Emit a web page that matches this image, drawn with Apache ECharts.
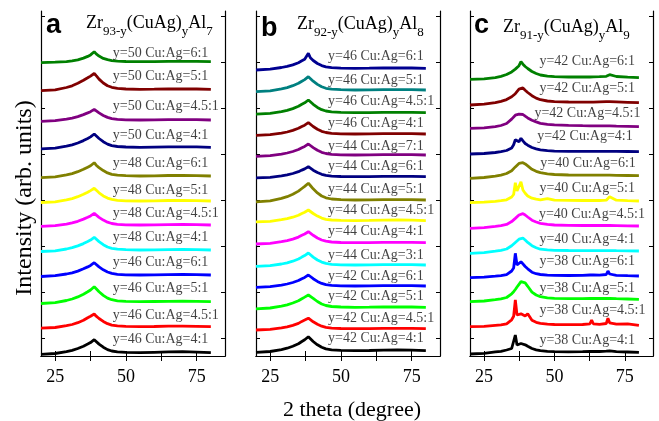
<!DOCTYPE html>
<html><head><meta charset="utf-8">
<script src="https://cdn.jsdelivr.net/npm/echarts@6/dist/echarts.min.js"></script>
<style>html,body{margin:0;padding:0;background:#fff}#c{width:659px;height:421px}</style>
</head><body><div id="c"></div>
<script>
// ---------- DATA (intensity above each curve's own baseline, arb. units) ----------
const xTicks = [25, 50, 75];

// Panel a: Zr93-y(CuAg)yAl7  (bottom -> top)
const twoThetaA = [20, 25, 29, 31, 33, 35, 36.5, 37.5, 38.2, 38.8, 39.5, 40.5, 42, 43.5, 45, 47, 50, 55, 60, 65, 70, 75, 80];
const labelsA = ['y=46 Cu:Ag=4:1', 'y=46 Cu:Ag=4.5:1', 'y=46 Cu:Ag=5:1', 'y=46 Cu:Ag=6:1', 'y=48 Cu:Ag=4:1', 'y=48 Cu:Ag=4.5:1', 'y=48 Cu:Ag=5:1', 'y=48 Cu:Ag=6:1', 'y=50 Cu:Ag=4:1', 'y=50 Cu:Ag=4.5:1', 'y=50 Cu:Ag=5:1', 'y=50 Cu:Ag=6:1'];
const offsetsA = [3.3, 29.3, 54.3, 81, 106, 131, 155, 180, 208.7, 236, 266.7, 294.3];
const intensityA = [
  [-1.6, -0.8, 1.0, 2.3, 4.2, 6.5, 8.6, 10.1, 11.4, 13, 11.2, 8.6, 5.5, 3.1, 1.7, 0.8, 0.3, 0, 0.4, 0.8, 1.0, 0.6, 0],
  [-1.5, -0.8, 1, 2.2, 4, 6.4, 9, 10.5, 10.8, 12.7, 10.5, 8.2, 5.3, 3, 1.6, 0.8, 0.3, 0, 0.2, 0.5, 0.6, 0.4, 0],
  [-1.8, -0.9, 1.2, 2.7, 4.8, 7.5, 9.9, 11.7, 13.2, 15, 12.9, 9.9, 6.3, 3.6, 2, 0.9, 0.3, 0, 0.2, 0.4, 0.6, 0.4, 0],
  [-1.5, -0.7, 1, 2.2, 3.9, 6.2, 8.1, 9.6, 10.8, 12.3, 10.6, 8.1, 5.2, 3, 1.6, 0.7, 0.2, 0, 0.1, 0.4, 0.5, 0.4, 0],
  [-1.5, -0.8, 1, 2.3, 4.1, 6.4, 8.4, 9.9, 11.2, 12.7, 10.9, 8.4, 5.3, 3, 1.7, 0.8, 0.3, 0, 0.1, 0.4, 0.5, 0.4, 0],
  [-1.4, -0.7, 0.9, 2.1, 3.7, 5.9, 7.7, 9.1, 10.3, 11.7, 10.1, 7.7, 4.9, 2.8, 1.5, 0.7, 0.2, 0, 0.1, 0.3, 0.5, 0.3, 0],
  [-1.5, -0.8, 1.1, 2.4, 4.3, 6.7, 8.8, 10.4, 11.8, 12.7, 10.9, 8.2, 5.1, 2.9, 1.6, 0.7, 0.2, 0, 0.2, 0.5, 0.6, 0.4, 0],
  [-1.6, -0.8, 1.1, 2.4, 4.3, 6.7, 8.8, 10.2, 10.9, 13.3, 10.8, 8.4, 5.4, 3.1, 1.7, 0.8, 0.3, 0, 0.2, 0.5, 0.6, 0.4, 0],
  [-1.6, -0.8, 1.1, 2.4, 4.3, 6.7, 8.8, 10.4, 11.7, 13.3, 11.4, 8.8, 5.6, 3.2, 1.7, 0.8, 0.3, 0, 0.2, 0.4, 0.5, 0.4, 0],
  [-1.3, -0.6, 0.9, 1.9, 3.4, 5.4, 7.1, 8.3, 9.4, 10.7, 9.2, 7.1, 4.5, 2.6, 1.4, 0.6, 0.2, 0, 0.1, 0.3, 0.4, 0.3, 0],
  [-1.4, -0.6, 1.8, 3.5, 6, 9, 11.5, 13.2, 14.6, 16, 13.6, 10.2, 6.3, 3.6, 2, 0.9, 0.3, 0, 0.1, 0.3, 0.4, 0.3, 0],
  [-1, -0.5, 0, 0.8, 1.8, 3.6, 5.3, 6.8, 8.2, 10, 7.8, 5.6, 3.3, 2, 1.1, 0.6, 0.2, 0, 0.1, 0.3, 0.4, 0.3, 0]
];

// Panel b: Zr92-y(CuAg)yAl8  (bottom -> top)
const twoThetaB = [20, 25, 29, 31, 33, 35, 36.2, 37.2, 37.9, 38.5, 39.2, 40.2, 41.7, 43.2, 44.7, 46.7, 50, 55, 60, 65, 70, 75, 80];
const labelsB = ['y=42 Cu:Ag=4:1', 'y=42 Cu:Ag=4.5:1', 'y=42 Cu:Ag=5:1', 'y=42 Cu:Ag=6:1', 'y=44 Cu:Ag=3:1', 'y=44 Cu:Ag=4:1', 'y=44 Cu:Ag=4.5:1', 'y=44 Cu:Ag=5:1', 'y=44 Cu:Ag=6:1', 'y=44 Cu:Ag=7:1', 'y=46 Cu:Ag=4:1', 'y=46 Cu:Ag=4.5:1', 'y=46 Cu:Ag=5:1', 'y=46 Cu:Ag=6:1'];
const offsetsB = [5.3, 27.3, 48.7, 70, 91, 113.3, 135.3, 156, 179.3, 201, 222, 243.3, 266, 287.7];
const intensityB = [
  [-1.7, -0.8, 1.1, 2.5, 4.5, 7, 9.2, 10.9, 12.3, 14, 12, 9.2, 5.9, 3.4, 1.8, 0.8, 0.3, 0, 0.2, 0.5, 0.7, 0.5, 0],
  [-1.3, -0.6, 0.8, 1.9, 3.4, 5.3, 7.3, 8.6, 8.8, 10.5, 8.6, 6.9, 4.4, 2.5, 1.4, 0.6, 0.2, 0, 0.1, 0.3, 0.4, 0.3, 0],
  [-1.5, -0.7, 1.2, 2.5, 4.3, 6.6, 8.6, 10.2, 11.4, 12.3, 11.3, 9, 5.8, 3.3, 1.8, 0.8, 0.3, 0, 0.1, 0.3, 0.4, 0.3, 0],
  [-1.3, -0.7, 0.9, 2, 3.5, 5.5, 7.3, 8.6, 9.7, 11, 9.5, 7.3, 4.6, 2.6, 1.4, 0.7, 0.2, 0, 0.1, 0.3, 0.4, 0.3, 0],
  [-1.4, -0.7, 1, 2.2, 3.8, 6, 7.9, 9.4, 10.6, 12, 10.3, 7.9, 5, 2.9, 1.6, 0.7, 0.2, 0, 0.1, 0.3, 0.4, 0.3, 0],
  [-1.3, -0.6, 1, 2.1, 3.6, 5.6, 7.4, 8.7, 9.8, 11, 9.6, 7.4, 4.7, 2.7, 1.5, 0.7, 0.2, 0, 0.1, 0.3, 0.4, 0.3, 0],
  [-1.2, -0.6, 1, 2, 3.5, 5.5, 7.2, 8.5, 9.6, 10.7, 9.4, 7.2, 4.6, 2.6, 1.4, 0.7, 0.3, 0.1, 0.3, 0.6, 0.7, 0.5, 0],
  [-1.8, -0.8, 1.6, 3.3, 5.7, 8.9, 11.5, 13.6, 15.2, 16.7, 14.5, 11.2, 7.1, 4, 2.2, 1, 0.3, 0, 0.1, 0.3, 0.4, 0.3, 0],
  [-1.2, -0.6, 0.8, 1.8, 3.2, 5, 6.6, 7.8, 8.5, 10, 8.4, 6.5, 4.2, 2.4, 1.3, 0.6, 0.2, 0, 0.1, 0.3, 0.4, 0.3, 0],
  [-1.3, -0.6, 0.9, 2, 3.5, 5.5, 7.3, 8.6, 9.8, 11, 9.6, 7.4, 4.7, 2.7, 1.5, 0.7, 0.2, 0, 0.1, 0.3, 0.4, 0.3, 0],
  [-1.3, -0.6, 0.9, 2, 3.6, 5.7, 7.5, 8.8, 10, 11.3, 9.8, 7.5, 4.8, 2.7, 1.5, 0.7, 0.2, 0, 0.1, 0.3, 0.4, 0.3, 0],
  [-1.5, -0.7, 1, 2.3, 4.1, 6.4, 8.4, 9.9, 11.2, 12.7, 10.9, 8.4, 5.3, 3, 1.7, 0.8, 0.3, 0, 0.1, 0.3, 0.4, 0.3, 0],
  [-1.6, -0.8, 1.1, 2.4, 4.3, 6.7, 8.8, 10.4, 11.7, 13.3, 11.4, 8.8, 5.6, 3.2, 1.7, 0.8, 0.3, 0, 0.1, 0.3, 0.4, 0.3, 0],
  [-1.7, -0.8, 0.8, 1.9, 3.4, 5.6, 7.5, 9, 10.2, 15, 10.5, 7.8, 4.8, 2.7, 1.5, 0.7, 0.2, 0, 0.1, 0.3, 0.4, 0.3, 0]
];

// Panel c: Zr91-y(CuAg)yAl9  (bottom -> top)
const twoThetaC = [20, 25, 29, 31, 33, 34.8, 35.5, 36.1, 36.7, 37.4, 38.1, 38.8, 39.6, 40.5, 42, 43.5, 45, 47.5, 50, 55, 60, 62.6, 63.2, 63.8, 66, 68.4, 69, 69.6, 72, 76, 80];
const labelsC = ['y=38 Cu:Ag=4:1', 'y=38 Cu:Ag=4.5:1', 'y=38 Cu:Ag=5:1', 'y=38 Cu:Ag=6:1', 'y=40 Cu:Ag=4:1', 'y=40 Cu:Ag=4.5:1', 'y=40 Cu:Ag=5:1', 'y=40 Cu:Ag=6:1', 'y=42 Cu:Ag=4:1', 'y=42 Cu:Ag=4.5:1', 'y=42 Cu:Ag=5:1', 'y=42 Cu:Ag=6:1'];
const offsetsC = [3.7, 30.7, 56.7, 80, 105, 130, 155, 180.3, 204.3, 229.3, 253.3, 278.3];
const intensityC = [
  [-1.7, -1, 0.4, 1, 2.3, 3.8, 5.5, 17.3, 7.3, 8, 8.8, 9, 7.5, 6, 3.8, 2.5, 1.6, 1, 0.6, 0.5, 0.6, 0.8, 1.2, 0.8, 0.8, 1.2, 3, 1.5, 0.6, 0.3, 0],
  [-1.4, -1, 0, 0.5, 1.5, 5.5, 9, 25.3, 10.3, 10, 11.5, 12, 9.3, 11.5, 5, 3, 2, 1.2, 0.8, 0.6, 0.8, 1.5, 5.3, 1.5, 1, 1.8, 7, 2.5, 1.2, 1.5, 0],
  [-2.4, -1.7, -0.4, 0.4, 1.8, 5.5, 7.6, 9.8, 12.3, 15, 17.6, 18.3, 16.4, 13, 7.2, 4.3, 2.6, 1.5, 1, 0.7, 0.7, 0.8, 0.8, 0.8, 0.8, 0.8, 0.8, 0.8, 0.6, 0.3, 0],
  [-1.7, -1.2, -0.2, 0.4, 1.4, 5, 8, 22.7, 11, 11.5, 14.3, 12.8, 9.5, 7.2, 3.8, 2.3, 1.5, 0.9, 0.6, 0.5, 0.6, 1, 3, 1, 0.8, 1.5, 5, 2, 0.7, 0.3, 0],
  [-2.3, -1.6, -0.2, 0.6, 2, 5.2, 6.9, 8.5, 10, 11.8, 13.3, 12.8, 11, 8.6, 5.3, 3.3, 1.8, 1.1, 0.7, 0.5, 0.4, 0.4, 0.4, 0.4, 0.4, 0.4, 0.4, 0.4, 0.3, 0.2, 0],
  [-2.3, -1.6, -0.3, 0.4, 1.6, 4.4, 6, 7.6, 9.2, 11, 12.5, 12.4, 11, 9, 5.8, 4, 2.7, 1.6, 1, 0.6, 0.5, 0.5, 0.5, 0.5, 0.5, 0.5, 0.5, 0.5, 0.4, 0.2, 0],
  [-1.7, -1.2, -0.3, 0.3, 1.2, 4, 6.5, 18.3, 10, 9.3, 19.3, 11, 7.8, 5, 2.8, 1.8, 1.2, 2.4, 0.8, 0.6, 0.5, 0.5, 1.5, 0.5, 0.5, 0.8, 2.5, 4.3, 0.8, 0.3, 0],
  [-2.6, -1.8, -0.5, 0.5, 2.2, 5, 6.8, 8.8, 10.6, 12.3, 14, 13, 11.8, 9.8, 6.4, 4.4, 3, 1.8, 1.2, 0.7, 0.6, 0.5, 0.5, 0.5, 0.5, 0.5, 0.6, 0.6, 0.4, 0.2, 0],
  [-2.3, -1.8, -0.8, 0, 1.2, 3.8, 7, 12, 10.5, 10, 13.4, 10.8, 8.2, 6.5, 4.2, 2.8, 1.8, 1, 0.5, 0.3, 0.3, 0.3, 0.3, 0.3, 0.3, 0.3, 0.5, 0.4, 0.3, 0.2, 0],
  [-1.6, -1.1, 0, 1.2, 3.2, 7.6, 9.5, 11.5, 13.4, 12.5, 13, 12.2, 10.5, 8.8, 6.5, 4.8, 3.4, 2.3, 1.8, 1.3, 1, 0.9, 0.9, 0.9, 0.8, 0.8, 0.8, 0.8, 0.6, 0.3, 0],
  [-2.3, -1.5, 0, 1.3, 3.1, 5.9, 7.3, 9, 11, 13.5, 15.4, 14.8, 12.5, 10.2, 7, 4.6, 3, 1.7, 1.1, 0.7, 0.6, 0.6, 0.6, 0.6, 0.8, 1, 1, 1, 0.8, 0.4, 0],
  [-1.6, -1.1, 0, 1.3, 3.2, 5.8, 7.2, 8.6, 10, 12, 16, 13.5, 11.2, 9.2, 6.2, 4.2, 2.7, 1.6, 1, 0.7, 0.7, 0.7, 0.8, 0.8, 1, 1.4, 2.4, 3, 1.2, 0.5, 0]
];

// ---------- LAYOUT / STYLE ----------
const labelLevelA = [17, 41, 67.7, 93.3, 118.7, 142.7, 166, 192.7, 221, 249.3, 280, 302.7];
const labelLevelB = [17.7, 37.7, 59.3, 80, 101, 124.3, 146, 166.7, 189.3, 210, 232.7, 255, 276, 300];
const labelLevelC = [16, 46, 67.7, 94.3, 116.7, 142, 167.7, 192.7, 219.3, 242.7, 267.7, 294.3];
const labelPosA = labelsA.map(() => 45.2);
const labelPosB = labelsB.map(() => 45.3);
const labelPosC = [44.5, 44.5, 44.5, 44.5, 44.5, 44.3, 44.5, 44.8, 43.7, 42.7, 44.5, 44.5];

const colorsA = ['#000000', '#ff0000', '#00ff00', '#0000ff', '#00ffff', '#ff00ff', '#ffff00', '#808000', '#000080', '#800080', '#800000', '#008000'];
const colorsB = ['#000000', '#ff0000', '#00ff00', '#0000ff', '#00ffff', '#ff00ff', '#ffff00', '#808000', '#000080', '#800080', '#800000', '#008000', '#008080', '#000090'];
const colorsC = colorsA;

const yTickVals = [18, 64, 110, 156, 202, 248, 294, 340];
const panels = [
  {x: twoThetaA, labels: labelsA, off: offsetsA, val: intensityA, col: colorsA, left: 41, width: 184, lx: labelPosA, ly: labelLevelA},
  {x: twoThetaB, labels: labelsB, off: offsetsB, val: intensityB, col: colorsB, left: 256, width: 184, lx: labelPosB, ly: labelLevelB},
  {x: twoThetaC, labels: labelsC, off: offsetsC, val: intensityC, col: colorsC, left: 470, width: 183, lx: labelPosC, ly: labelLevelC}
];

const serif = 'Liberation Serif';
const grid = [], xAxis = [], yAxis = [], series = [];
panels.forEach((p, k) => {
  grid.push({left: p.left, top: 11, width: p.width, height: 345});
  const axLine = {show: true, lineStyle: {color: '#000', width: 1.2}};
  const xt = {show: true, inside: true, length: 5, customValues: [25, 37.5, 50, 62.5, 75], lineStyle: {color: '#000'}};
  const yt = {show: true, inside: true, length: 4, customValues: yTickVals, lineStyle: {color: '#000'}};
  xAxis.push({type: 'value', gridIndex: k, min: 20, max: 85, position: 'bottom',
    axisLine: axLine, splitLine: {show: false}, axisTick: xt,
    axisLabel: {show: true, customValues: xTicks, margin: 12, fontFamily: serif, fontSize: 18, color: '#000'}});
  xAxis.push({type: 'value', gridIndex: k, min: 20, max: 85, position: 'top',
    axisLine: axLine, splitLine: {show: false}, axisTick: xt, axisLabel: {show: false}});
  yAxis.push({type: 'value', gridIndex: k, min: 0, max: 345, position: 'left',
    axisLine: axLine, splitLine: {show: false}, axisTick: yt, axisLabel: {show: false}});
  yAxis.push({type: 'value', gridIndex: k, min: 0, max: 345, position: 'right',
    axisLine: axLine, splitLine: {show: false}, axisTick: yt, axisLabel: {show: false}});
  p.val.forEach((v, i) => {
    series.push({type: 'line', xAxisIndex: 2 * k, yAxisIndex: 2 * k, symbol: 'none', silent: true,
      data: p.x.map((t, j) => [t, p.off[i] + v[j]]),
      lineStyle: {color: p.col[i], width: 2.8}, z: 3});
  });
  series.push({type: 'scatter', xAxisIndex: 2 * k, yAxisIndex: 2 * k, symbolSize: 1, silent: true,
    itemStyle: {color: 'rgba(0,0,0,0)'},
    data: p.labels.map((s, i) => [p.lx[i], p.ly[i], s]),
    label: {show: true, position: 'right', distance: 0, formatter: q => q.data[2],
      fontFamily: serif, fontSize: 14, color: '#111'}, z: 5});
});

const rich = {
  m: {fontFamily: serif, fontSize: 18, fontWeight: 'normal', color: '#000', height: 20, verticalAlign: 'top'},
  s: {fontFamily: serif, fontSize: 13, fontWeight: 'normal', color: '#000', height: 37, verticalAlign: 'top'}
};
const letter = {fontFamily: 'Liberation Sans', fontWeight: 'bold', fontSize: 27, color: '#000'};
const titles = [
  {text: 'a', left: 46, top: 12, padding: 0, textStyle: letter},
  {text: 'b', left: 261, top: 15, padding: 0, textStyle: letter},
  {text: 'c', left: 474, top: 12, padding: 0, textStyle: letter},
  {text: '{m|Zr}{s|93-y}{m|(CuAg)}{s|y}{m|Al}{s|7}', left: 86, top: 13, padding: 0, textStyle: {fontWeight: 'normal', rich}},
  {text: '{m|Zr}{s|92-y}{m|(CuAg)}{s|y}{m|Al}{s|8}', left: 297, top: 14, padding: 0, textStyle: {fontWeight: 'normal', rich}},
  {text: '{m|Zr}{s|91-y}{m|(CuAg)}{s|y}{m|Al}{s|9}', left: 503, top: 17, padding: 0, textStyle: {fontWeight: 'normal', rich}}
];

const chart = echarts.init(document.getElementById('c'), null, {renderer: 'canvas'});
chart.setOption({
  animation: false,
  backgroundColor: '#fff',
  title: titles,
  grid, xAxis, yAxis, series,
  graphic: [
    {type: 'text', x: 352, y: 410, style: {text: '2 theta (degree)', font: '22px "Liberation Serif"', fill: '#000', textAlign: 'center', textVerticalAlign: 'middle'}},
    {type: 'text', x: 25, y: 198, rotation: Math.PI / 2, style: {text: 'Intensity (arb. units)', font: '24px "Liberation Serif"', fill: '#000', textAlign: 'center', textVerticalAlign: 'middle'}}
  ]
});
</script>
</body></html>
